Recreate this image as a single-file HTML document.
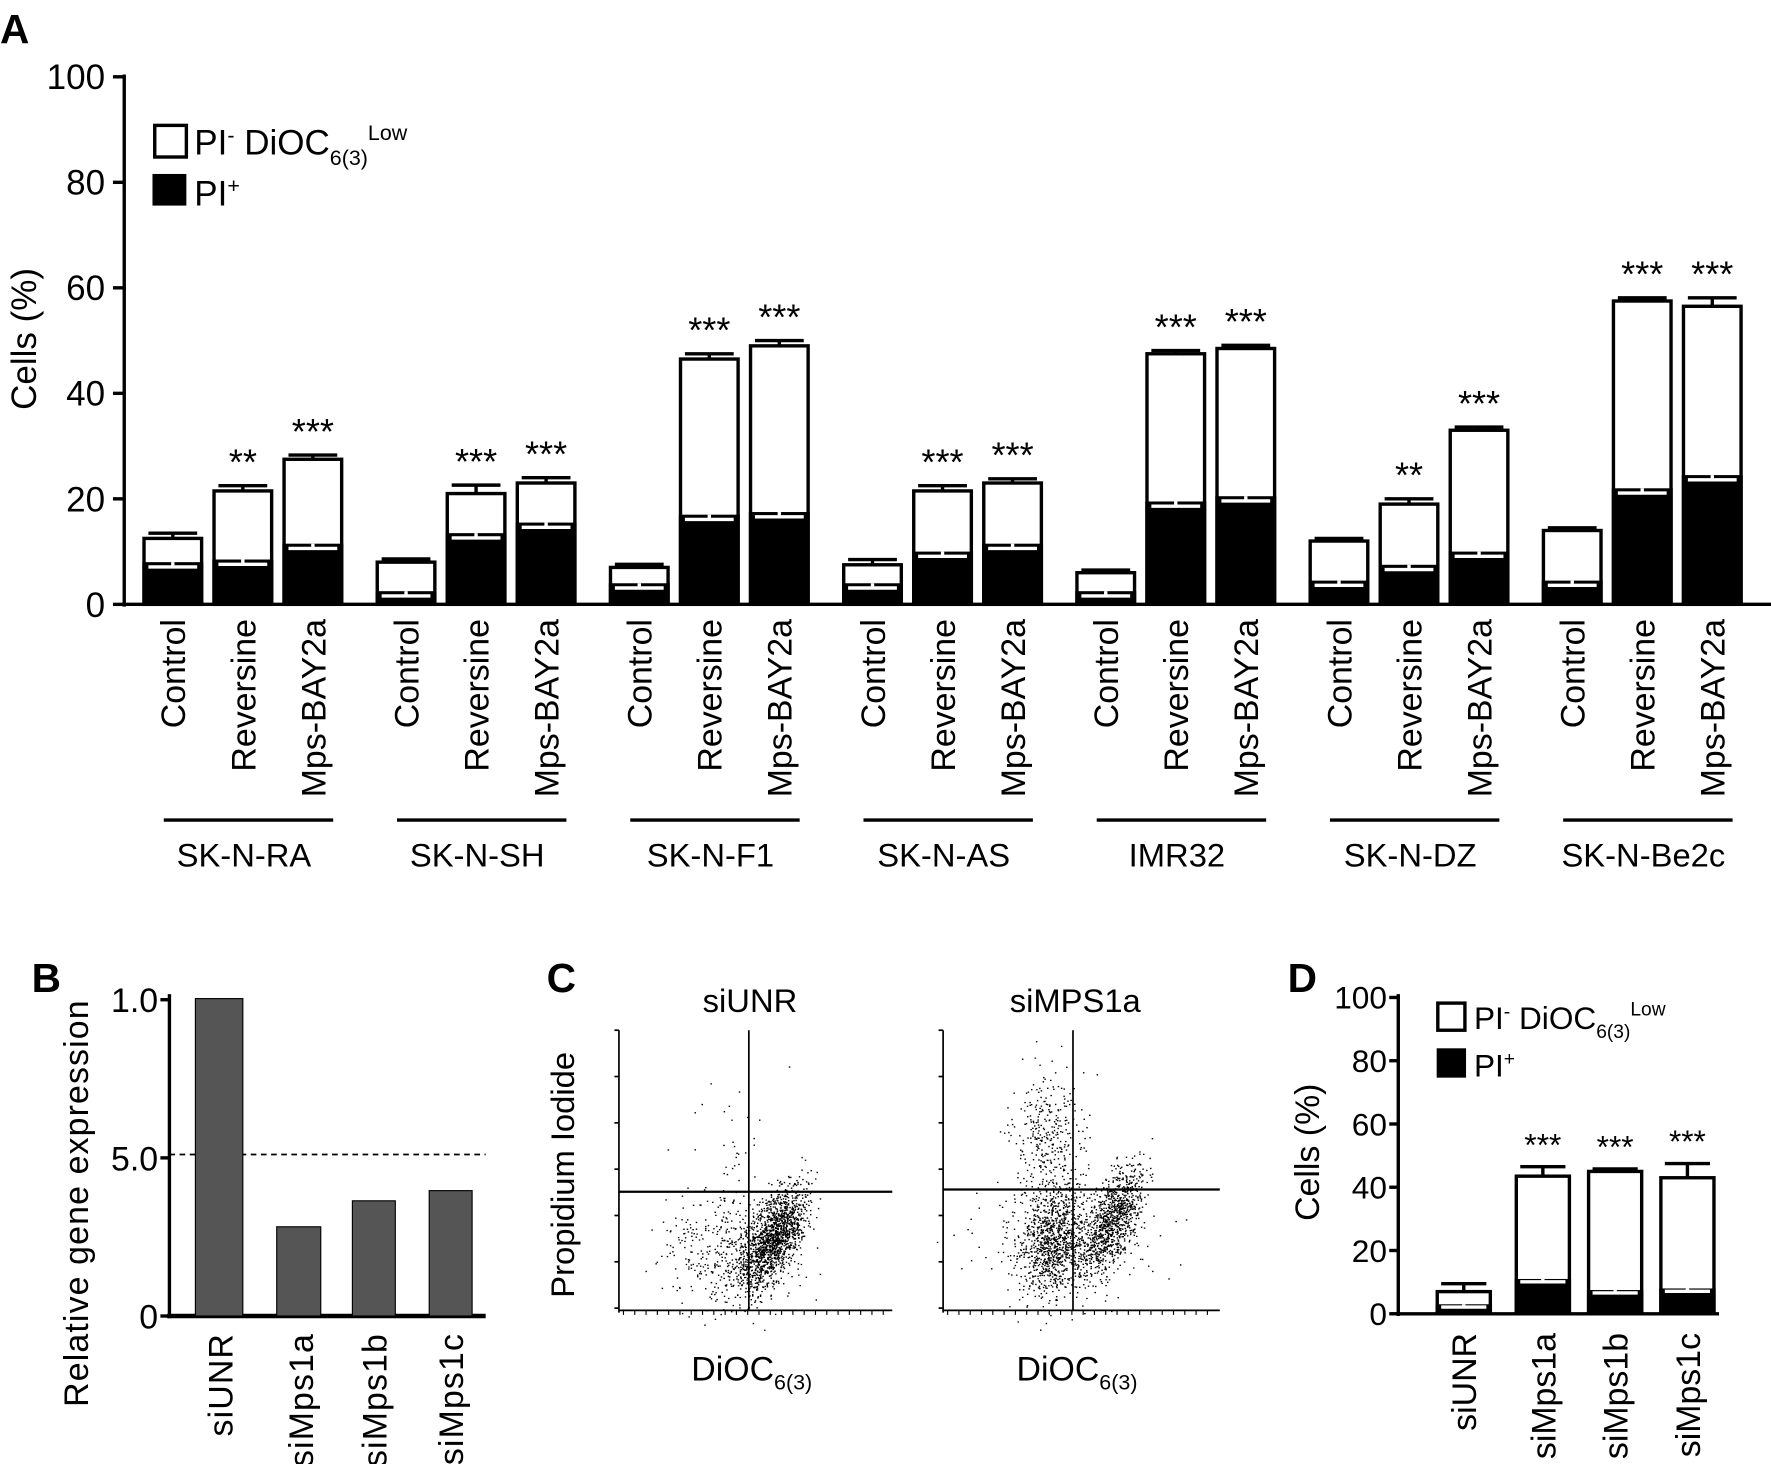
<!DOCTYPE html>
<html><head><meta charset="utf-8"><style>
html,body{margin:0;padding:0;background:#fff;}
svg{display:block;font-family:"Liberation Sans",Arial,sans-serif;}
</style></head><body>
<svg id="s" width="1771" height="1464" viewBox="0 0 1568 1296" preserveAspectRatio="none" xmlns="http://www.w3.org/2000/svg">
<rect width="1568" height="1296" fill="#fff"/>
<g id="g"></g>
</svg>
<script>
var g=document.getElementById('g');var h='';
function T(x,y,t,o){o=o||{};h+='<text x="'+x+'" y="'+y+'" font-size="'+(o.fs||28)+'" text-anchor="'+(o.a||'start')+'"'+(o.w?' font-weight="bold"':'')+(o.ls?' letter-spacing="'+o.ls+'"':'')+(o.r?' transform="rotate(-90 '+x+' '+y+')"':'')+'>'+t+'</text>';}
function L(x1,y1,x2,y2,w,c,d){h+='<line x1="'+x1+'" y1="'+y1+'" x2="'+x2+'" y2="'+y2+'" stroke="'+(c||'#000')+'" stroke-width="'+(w||3)+'"'+(d?' stroke-dasharray="'+d+'"':'')+'/>';}
function R(x,y,w,hh,f,s,sw){h+='<rect x="'+x+'" y="'+y+'" width="'+w+'" height="'+hh+'" fill="'+f+'"'+(s?' stroke="'+s+'" stroke-width="'+sw+'"':'')+'/>';}
// Panel A
T(0,38,'A',{fs:36,w:1});
var y0=535,k=4.67;function ya(v){return y0-k*v;}
L(110,66,110,537,3);L(108,535,1568,535,3);
[0,20,40,60,80,100].forEach(function(v){L(100,ya(v),110,ya(v),3);T(93,ya(v)+11,v,{fs:31,a:'end'});});
T(32,300,'Cells (%)',{fs:31,a:'middle',r:1});
R(137,111,28,28,'#fff','#000',3);T(172,137,'PI<tspan dy="-11" font-size="19">-</tspan><tspan dy="11"> DiOC</tspan><tspan dy="9" font-size="19">6(3)</tspan><tspan dy="-22" font-size="19">Low</tspan>',{fs:31});
R(135,154,30,28,'#000');T(172,182,'PI<tspan dy="-11" font-size="19">+</tspan>',{fs:31});
var groups=['SK-N-RA','SK-N-SH','SK-N-F1','SK-N-AS','IMR32','SK-N-DZ','SK-N-Be2c'];
var data=[[[12.5,8,1],[21.5,8.5,1,'**'],[27.5,11.5,0.8,'***']],
[[8,2.5,0.6],[21,13.5,1.6,'***'],[23,15.5,1,'***']],
[[7,4,0.6],[46.5,17,1,'***'],[49,17.5,1,'***']],
[[7.5,4,1],[21.5,10,1,'***'],[23,11.5,0.8,'***']],
[[6,2.5,0.5],[47.5,19.5,0.6,'***'],[48.5,20.5,0.6,'***']],
[[12,4.5,0.5],[19,7.5,1,'**'],[33,10,0.6,'***']],
[[14,4.5,0.5],[57.5,22,0.6,'***'],[56.5,24.5,1.6,'***']]];
var names=['Control','Reversine','Mps-BAY2a'];
function bar(cx,bw,tot,pi,err,yf,star,sfs){
 var t=yf(tot),p=yf(pi),b=yf(0);
 L(cx,t,cx,yf(tot+err),3);L(cx-bw*0.4,yf(tot+err),cx+bw*0.4,yf(tot+err),3);
 R(cx-bw/2+1.5,t,bw-3,b-t,'#fff','#000',3);
 R(cx-bw/2,p,bw,b-p,'#000');
 var e=Math.max(2.5,(yf(0)-yf(1))*0.9);
 L(cx-bw*0.4,p+e,cx+bw*0.4,p+e,3,'#fff');L(cx,p,cx,p+e,3,'#fff');
 if(star)T(cx,yf(tot+err)-10,star,{fs:sfs||32,a:'middle'});
}
for(var i=0;i<7;i++){var c=215+i*206.5;
 for(var j=0;j<3;j++){var d=data[i][j];var cx=c+(j-1)*62;bar(cx,54,d[0],d[1],d[2],ya,d[3]);
  T(cx+11,548,names[j],{fs:30,a:'end',r:1});}
 L(c-70,726,c+80,726,3);T(c+1,767,groups[i],{fs:29,a:'middle'});}
// Panel B
T(28,878,'B',{fs:36,w:1});
var yb0=1165;function yb(v){return yb0-280*v;}
L(150,880,150,1167,3);L(148,1165,430,1165,4);
[[1,'1.0'],[0.5,'5.0'],[0,'0']].forEach(function(a){L(142,yb(a[0]),150,yb(a[0]),3);T(140,yb(a[0])+11,a[1],{fs:30,a:'end'});});
L(150,1022,430,1022,1.5,'#000','5,4');
R(173,884,42,281,'#555','#000',1);R(245,1086,39,79,'#555','#000',1);R(312,1063,38,102,'#555','#000',1);R(380,1054,38,111,'#555','#000',1);
T(78,1065,'Relative gene expression',{fs:30,a:'middle',r:1,ls:1});
['siUNR','siMps1a','siMps1b','siMps1c'].forEach(function(t,i){var x=[206,277,342,410][i];T(x,1180,t,{fs:30,a:'end',r:1,ls:1});});
// Panel C
T(484,878,'C',{fs:36,w:1});
T(664,896,'siUNR',{fs:29,a:'middle'});T(952,896,'siMPS1a',{fs:29,a:'middle'});
function plot(x0,x1,vx,hy,pts){
 L(x0,912,x0,1162,1.5);L(x0,1160,x1,1160,1.5);L(vx,912,vx,1160,1.5);L(x0,hy,x1,hy,2);
 for(var i=0;i<7;i++){L(x0-4,912+i*41,x0,912+i*41,1.5);}
 for(var i=0;i<24;i++){L(x0+4+i*10,1160,x0+4+i*10,1164,1);}
 h+=pts;}
var seed=7;function rnd(){seed=(seed*16807)%2147483647;return seed/2147483647;}
function gauss(){return (rnd()+rnd()+rnd()+rnd()-2)/0.58;}
function cloud(n,cx,cy,sx,sy,rho){var s='';for(var i=0;i<n;i++){var a=gauss(),b=gauss();var x=cx+sx*a,y=cy+sy*(rho*a+Math.sqrt(1-rho*rho)*b);s+='M'+x.toFixed(1)+' '+y.toFixed(1)+'h1.3';}return s;}
var p1=cloud(1400,685,1095,14,22,-0.6)+cloud(500,650,1110,30,25,0)+cloud(40,650,1020,20,40,0);
var p2=cloud(1000,985,1080,14,24,-0.6)+cloud(900,932,1100,14,24,-0.2)+cloud(350,930,1010,15,30,0)+cloud(300,940,1100,40,30,0);
plot(548,790,663,1055,'<path d="'+p1+'" stroke="#000" stroke-width="1.2" fill="none"/>');
plot(835,1080,950,1053,'<path d="'+p2+'" stroke="#000" stroke-width="1.2" fill="none"/>');
T(508,1040,'Propidium Iodide',{fs:29,a:'middle',r:1});
T(612,1222,'DiOC<tspan dy="8" font-size="19">6(3)</tspan>',{fs:30});T(900,1222,'DiOC<tspan dy="8" font-size="19">6(3)</tspan>',{fs:30});
// Panel D
T(1140,878,'D',{fs:36,w:1});
var yd0=1163;function yd(v){return yd0-2.8*v;}
L(1238,880,1238,1165,3);L(1236,1163,1522,1163,3);
[0,20,40,60,80,100].forEach(function(v){L(1230,yd(v),1238,yd(v),3);T(1228,yd(v)+10,v,{fs:28,a:'end'});});
T(1168,1020,'Cells (%)',{fs:30,a:'middle',r:1});
R(1273,888,24,24,'#fff','#000',3);T(1305,911,'PI<tspan dy="-10" font-size="17">-</tspan><tspan dy="10"> DiOC</tspan><tspan dy="8" font-size="17">6(3)</tspan><tspan dy="-20" font-size="17">Low</tspan>',{fs:28});
R(1272,928,26,26,'#000');T(1305,953,'PI<tspan dy="-10" font-size="17">+</tspan>',{fs:28});
[[1296,7,3,2.5],[1366,43.5,11,3,'***'],[1430,45,7.5,0.8,'***'],[1494,43,8,4.5,'***']].forEach(function(d){bar(d[0],50,d[1],d[2],d[3],yd,d[4],28);});
['siUNR','siMps1a','siMps1b','siMps1c'].forEach(function(t,i){var x=[1307,1377,1441,1505][i];T(x,1180,t,{fs:30,a:'end',r:1});});
g.innerHTML=h;
</script>
</body></html>
